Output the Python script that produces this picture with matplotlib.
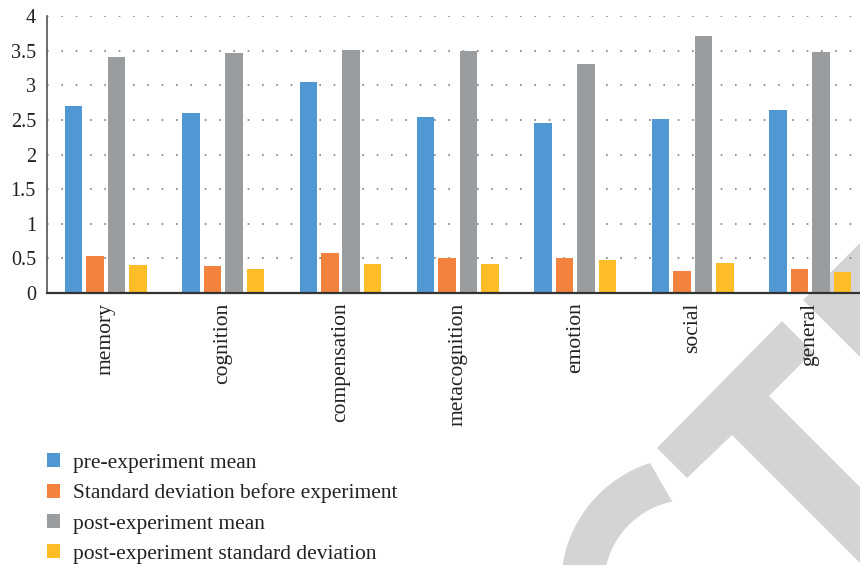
import numpy as np
import matplotlib
matplotlib.use("Agg")
import matplotlib.pyplot as plt
from matplotlib.patches import Polygon, Patch

categories = ["memory", "cognition", "compensation", "metacognition", "emotion", "social", "general"]
pre_mean = [2.70, 2.60, 3.05, 2.54, 2.46, 2.51, 2.64]
pre_sd = [0.54, 0.39, 0.58, 0.51, 0.50, 0.32, 0.34]
post_mean = [3.41, 3.47, 3.51, 3.50, 3.31, 3.71, 3.48]
post_sd = [0.41, 0.34, 0.42, 0.42, 0.48, 0.44, 0.31]
series_names = ["pre-experiment mean", "Standard deviation before experiment",
                "post-experiment mean", "post-experiment standard deviation"]
colors = ["#5098D3", "#F3823E", "#9A9DA0", "#FDBD26"]
yticks = [0, 0.5, 1, 1.5, 2, 2.5, 3, 3.5, 4]
ytick_labels = ["0", "0.5", "1", "1.5", "2", "2.5", "3", "3.5", "4"]

W, H = 860, 565
fig = plt.figure(figsize=(W / 100, H / 100), dpi=100)
serif = ["Liberation Serif", "DejaVu Serif"]

# background watermark (decorative)
bg = fig.add_axes([0, 0, 1, 1], zorder=0)
bg.set_xlim(0, W)
bg.set_ylim(H, 0)
bg.axis("off")
wm = "#D4D4D4"
t_shape = [(657, 448), (782, 321), (813, 352), (769, 396), (920, 547),
           (920, 623), (732, 435), (687, 478)]
bg.add_patch(Polygon(t_shape, closed=True, fc=wm, ec="none"))
bg.add_patch(Polygon([(803, 300), (920, 183), (920, 417)], closed=True, fc=wm, ec="none"))
cx, cy = 689, 585
a_out = np.radians(np.linspace(107.7, 205, 80))
a_in = np.radians(np.linspace(205, 101.3, 80))
arc = [(cx + 128 * np.cos(a), cy - 128 * np.sin(a)) for a in a_out] + \
      [(cx + 85 * np.cos(a), cy - 85 * np.sin(a)) for a in a_in]
bg.add_patch(Polygon(arc, closed=True, fc=wm, ec="none"))

# main axes
left_px, top_px, bottom_px, unit_px = 47, 16, 293, 117.4
ax = fig.add_axes([left_px / W, 1 - bottom_px / H,
                   len(categories) * unit_px / W, (bottom_px - top_px) / H], zorder=1)
ax.patch.set_alpha(0)

x = np.arange(len(categories))
pitch = 0.183
width = 0.149
data = [pre_mean, pre_sd, post_mean, post_sd]
for i, (vals, c) in enumerate(zip(data, colors)):
    ax.bar(x + (i - 1.5) * pitch, vals, width=width, color=c, zorder=3)

ax.set_xlim(-0.5, len(categories) - 0.5)
ax.set_ylim(0, 4)
ax.set_yticks(yticks)
ax.set_yticklabels(ytick_labels, family=serif, fontsize=14.5, color="#222222")
ax.set_xticks(x)
ax.set_xticklabels(categories, rotation=90, family=serif, fontsize=15.5,
                   color="#222222", va="top", ha="center")
ax.tick_params(axis="both", length=0)
ax.tick_params(axis="y", pad=8)
ax.tick_params(axis="x", pad=7)
ax.yaxis.grid(True, color="#808080", linestyle=(0, (1, 7.6)), linewidth=1.2, zorder=0)
ax.set_axisbelow(True)
for s in ["top", "right"]:
    ax.spines[s].set_visible(False)
ax.spines["left"].set_color("#555555")
ax.spines["left"].set_linewidth(1.2)
ax.spines["bottom"].set_color("#333333")
ax.spines["bottom"].set_linewidth(1.6)
ax.spines["bottom"].set_zorder(4)

handles = [Patch(facecolor=c, edgecolor="none") for c in colors]
fig.legend(handles, series_names, loc="upper left",
           bbox_to_anchor=(47 / W, 1 - 453 / H), frameon=False,
           prop={"family": serif, "size": 15.5}, handlelength=0.62, handleheight=0.62,
           handletextpad=0.58, labelspacing=0.5, borderpad=0, borderaxespad=0,
           labelcolor="#222222")

fig.savefig("out.png", dpi=100)
